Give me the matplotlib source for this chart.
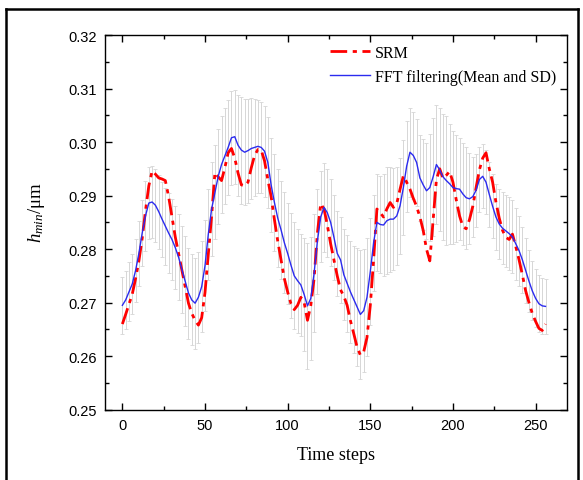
import matplotlib
matplotlib.use("Agg")
import matplotlib.pyplot as plt
from matplotlib.lines import Line2D
from matplotlib.ticker import MultipleLocator

time_steps = list(range(0, 257, 2))

srm = [0.2660, 0.2678, 0.2697, 0.2716, 0.2745, 0.2778, 0.2820, 0.2872, 0.2918, 0.2946,
       0.2940, 0.2933, 0.2931, 0.2928, 0.2898, 0.2860, 0.2823, 0.2792, 0.2761, 0.2730,
       0.2699, 0.2680, 0.2667, 0.2658, 0.2672, 0.2719, 0.2790, 0.2862, 0.2943, 0.2935,
       0.2928, 0.2952, 0.2980, 0.2988, 0.2970, 0.2942, 0.2920, 0.2918, 0.2925, 0.2952,
       0.2975, 0.2986, 0.2985, 0.2965, 0.2930, 0.2898, 0.2855, 0.2815, 0.2780, 0.2745,
       0.2720, 0.2698, 0.2687, 0.2695, 0.2710, 0.2700, 0.2667, 0.2695, 0.2745, 0.2830,
       0.2885, 0.2875, 0.2845, 0.2810, 0.2780, 0.2750, 0.2724, 0.2712, 0.2695, 0.2666,
       0.2642, 0.2617, 0.2602, 0.2608, 0.2635, 0.2695, 0.2780, 0.2875, 0.2868, 0.2860,
       0.2875, 0.2887, 0.2878, 0.2885, 0.2912, 0.2937, 0.2925, 0.2912, 0.2895, 0.2880,
       0.2860, 0.2835, 0.2800, 0.2778, 0.2855, 0.2930, 0.2950, 0.2932, 0.2938, 0.2945,
       0.2925, 0.2892, 0.2862, 0.2842, 0.2838, 0.2855, 0.2880, 0.2915, 0.2948, 0.2970,
       0.2980, 0.2950, 0.2925, 0.2888, 0.2858, 0.2835, 0.2822, 0.2818, 0.2828, 0.2805,
       0.2780, 0.2752, 0.2722, 0.2700, 0.2680, 0.2665, 0.2652, 0.2648, 0.2660]

fft_mean = [0.2695, 0.2705, 0.2720, 0.2735, 0.2760, 0.2792, 0.2830, 0.2862, 0.2886, 0.2888,
            0.2882, 0.2870, 0.2856, 0.2843, 0.2830, 0.2818, 0.2803, 0.2785, 0.2762, 0.2740,
            0.2718, 0.2705, 0.2699, 0.2710, 0.2730, 0.2769, 0.2828, 0.2875, 0.2906, 0.2936,
            0.2958, 0.2974, 0.2990, 0.3008, 0.3010, 0.2994, 0.2985, 0.2981, 0.2984, 0.2988,
            0.2990, 0.2992, 0.2990, 0.2983, 0.2962, 0.2920, 0.2887, 0.2858, 0.2836, 0.2812,
            0.2792, 0.2770, 0.2750, 0.2741, 0.2733, 0.2715, 0.2694, 0.2708, 0.2755, 0.2815,
            0.2860, 0.2878, 0.2868, 0.2850, 0.2822, 0.2792, 0.2780, 0.2752, 0.2736, 0.2720,
            0.2706, 0.2692, 0.2678, 0.2685, 0.2710, 0.2758, 0.2812, 0.2850, 0.2846, 0.2845,
            0.2853, 0.2856, 0.2856, 0.2862, 0.2881, 0.2915, 0.2955, 0.2981, 0.2975, 0.2962,
            0.2933, 0.2920, 0.2909, 0.2915, 0.2935, 0.2958, 0.2948, 0.2935, 0.2928, 0.2922,
            0.2915, 0.2913, 0.2912, 0.2903, 0.2896, 0.2894, 0.2898, 0.2910, 0.2930, 0.2936,
            0.2925, 0.2902, 0.2880, 0.2860, 0.2847, 0.2839, 0.2834, 0.2829, 0.2823, 0.2810,
            0.2797, 0.2780, 0.2760, 0.2740, 0.2722, 0.2708, 0.2698, 0.2694, 0.2693]

fft_sd = [0.0053, 0.0054, 0.0055, 0.0056, 0.0058, 0.0060, 0.0062, 0.0065, 0.0067, 0.0068,
          0.0068, 0.0069, 0.0070, 0.0072, 0.0074, 0.0076, 0.0078, 0.0080, 0.0082, 0.0084,
          0.0085, 0.0085, 0.0085, 0.0085, 0.0085, 0.0085, 0.0085, 0.0087, 0.0088, 0.0089,
          0.0090, 0.0089, 0.0088, 0.0088, 0.0088, 0.0094, 0.0100, 0.0099, 0.0097, 0.0094,
          0.0090, 0.0087, 0.0085, 0.0085, 0.0085, 0.0088, 0.0090, 0.0091, 0.0092, 0.0094,
          0.0095, 0.0098, 0.0100, 0.0097, 0.0095, 0.0106, 0.0118, 0.0115, 0.0110, 0.0098,
          0.0085, 0.0083, 0.0082, 0.0081, 0.0080, 0.0080, 0.0080, 0.0085, 0.0090, 0.0095,
          0.0100, 0.0110, 0.0120, 0.0115, 0.0110, 0.0100, 0.0090, 0.0090, 0.0090, 0.0095,
          0.0100, 0.0098, 0.0095, 0.0092, 0.0090, 0.0088, 0.0085, 0.0083, 0.0082, 0.0081,
          0.0080, 0.0085, 0.0090, 0.0100, 0.0110, 0.0112, 0.0115, 0.0118, 0.0120, 0.0112,
          0.0105, 0.0100, 0.0095, 0.0095, 0.0095, 0.0085, 0.0075, 0.0068, 0.0060, 0.0060,
          0.0060, 0.0060, 0.0060, 0.0062, 0.0065, 0.0067, 0.0068, 0.0068, 0.0068, 0.0067,
          0.0065, 0.0062, 0.0060, 0.0058, 0.0055, 0.0054, 0.0053, 0.0052, 0.0052]

x_ticks = [0, 50, 100, 150, 200, 250]
y_ticks = [0.25, 0.26, 0.27, 0.28, 0.29, 0.30, 0.31, 0.32]

plt.rcParams['mathtext.fontset'] = 'custom'
plt.rcParams['mathtext.rm'] = 'Liberation Serif'
plt.rcParams['mathtext.it'] = 'Liberation Serif:italic'

fig = plt.figure(figsize=(5.83, 4.81), dpi=100)
ax = fig.add_axes([105/583, 1 - 410.7/481, 462/583, 374.7/481])

ax.errorbar(time_steps, fft_mean, yerr=fft_sd, fmt='none', ecolor='#d6d6d6',
            elinewidth=0.7, capsize=1.4, capthick=0.6, zorder=1)
ax.plot(time_steps, srm, color='red', linestyle=(0, (6, 2, 1.5, 2)), linewidth=2.0,
        label='SRM', zorder=3)
ax.plot(time_steps, fft_mean, color='#2b2bef', linewidth=1.0,
        label='FFT filtering(Mean and SD)', zorder=4)

ax.set_xlim(-10.5, 269)
ax.set_ylim(0.25, 0.32)
ax.set_xticks(x_ticks)
ax.set_yticks(y_ticks)
ax.set_yticklabels([f"{v:.2f}" for v in y_ticks])
ax.xaxis.set_minor_locator(MultipleLocator(25))
ax.yaxis.set_minor_locator(MultipleLocator(0.005))
ax.tick_params(which='both', direction='in', top=True, right=True, width=1.0)
ax.tick_params(which='major', length=5, labelsize=10.5, pad=6)
ax.tick_params(which='minor', length=3)
for lab in ax.get_xticklabels() + ax.get_yticklabels():
    lab.set_fontfamily('Liberation Sans')
for s in ax.spines.values():
    s.set_linewidth(1.0)

ax.set_xlabel('Time steps', fontfamily='Liberation Serif', fontsize=13, labelpad=10)
ax.set_ylabel(r'$h_{min}$/μm', fontfamily='Liberation Serif', fontsize=13.5)
ax.yaxis.set_label_coords(-0.125, 0.53)

leg = ax.legend(loc='upper right', bbox_to_anchor=(1.008, 1.012), frameon=False,
                prop={'family': 'Liberation Serif', 'size': 11.5}, handlelength=2.5,
                handletextpad=0.3, labelspacing=0.5)

# figure frame
fig.add_artist(Line2D([6/583, 6/583], [0, 1 - 10/481], transform=fig.transFigure, color='black', lw=1.8))
fig.add_artist(Line2D([6/583, 578/583], [1 - 10/481, 1 - 10/481], transform=fig.transFigure, color='black', lw=1.8))
fig.add_artist(Line2D([578/583, 578/583], [0, 1 - 10/481], transform=fig.transFigure, color='black', lw=1.8))

fig.savefig('out.png', dpi=100)
